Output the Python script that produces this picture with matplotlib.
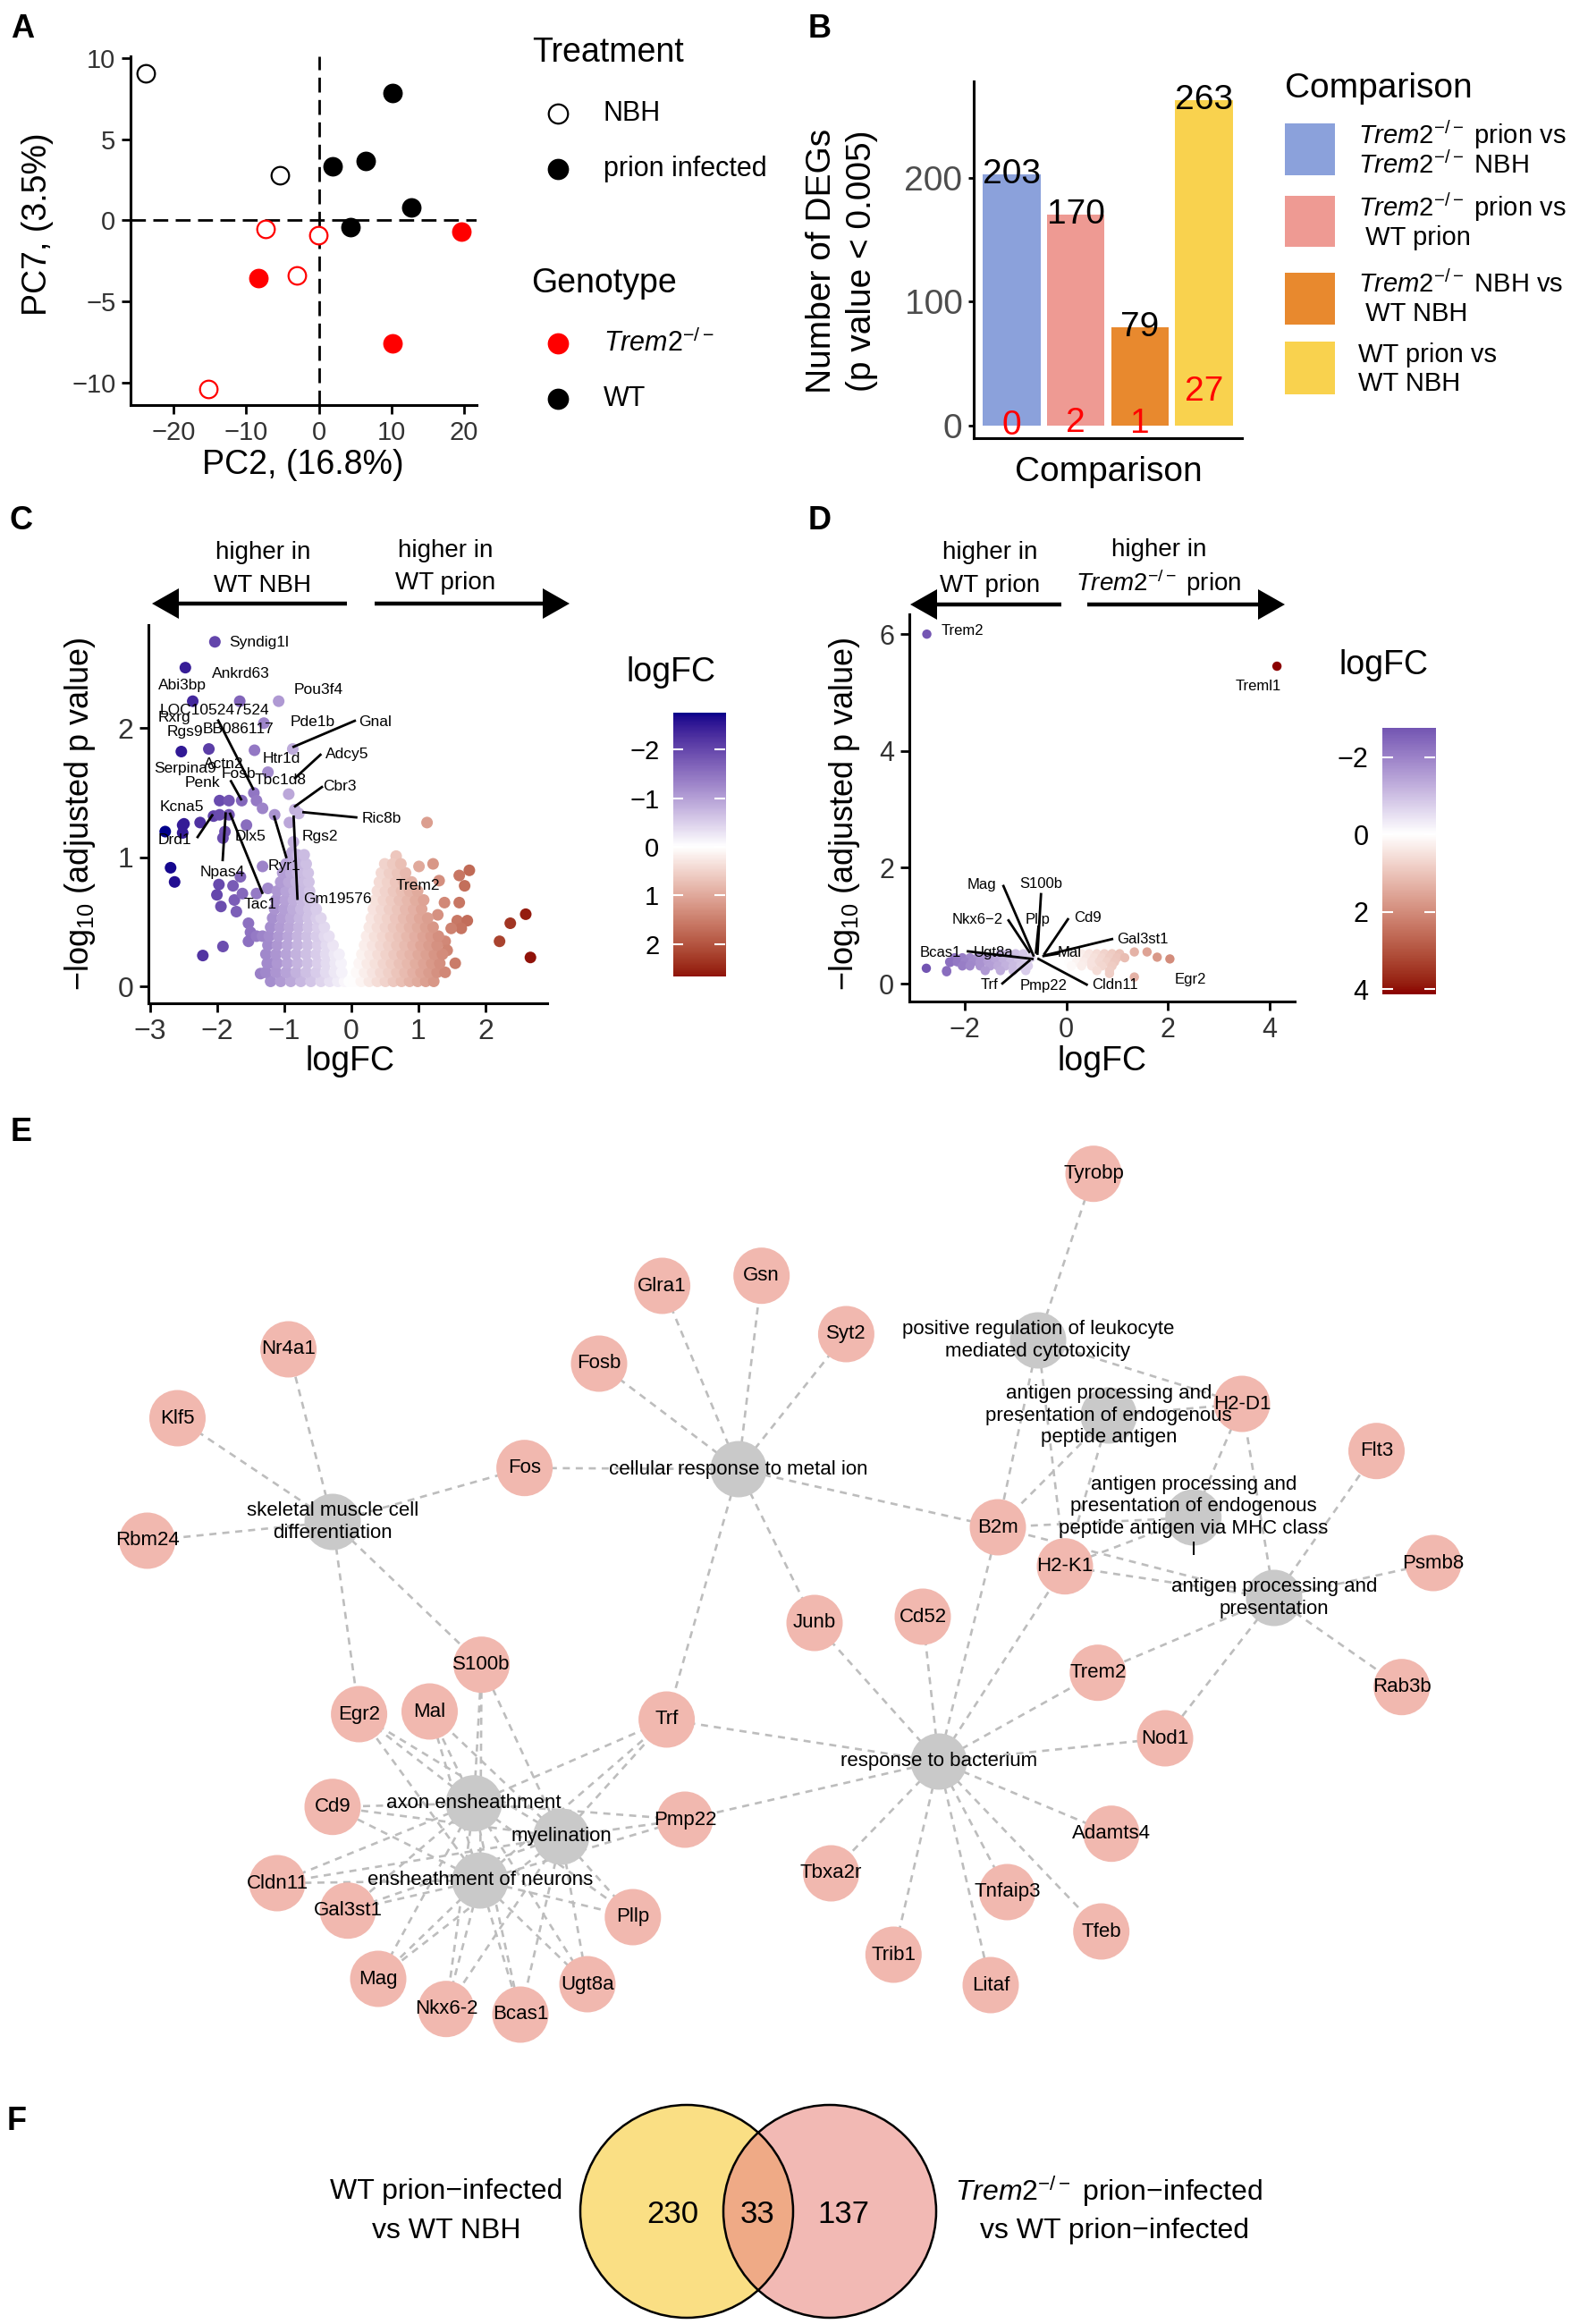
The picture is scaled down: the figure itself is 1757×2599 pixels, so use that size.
import numpy as np
import matplotlib
matplotlib.use('Agg')
import matplotlib.pyplot as plt
from matplotlib.colors import ListedColormap, Normalize
from matplotlib.patches import Circle, Rectangle, FancyArrow

plt.rcParams['font.family'] = ['Liberation Sans', 'DejaVu Sans']
plt.rcParams['mathtext.fontset'] = 'custom'
plt.rcParams['mathtext.rm'] = 'Liberation Sans'
plt.rcParams['mathtext.it'] = 'Liberation Sans:italic'
plt.rcParams['mathtext.bf'] = 'Liberation Sans:bold'

W, H = 1758, 2599
TREM = r'$\mathit{Trem2}^{-/-}$'

# ---------------- data ----------------
# A: PCA
pca_pc2 = [-23.8, -5.3, -7.3, -0.1, -3.0, -15.2, 10.1, 1.9, 6.4, 12.7, 4.4, -8.3, 19.6, 10.1]
pca_pc7 = [9.05, 2.77, -0.53, -0.93, -3.43, -10.4, 7.86, 3.3, 3.66, 0.79, -0.42, -3.58, -0.69, -7.58]
pca_treatment = ['NBH', 'NBH', 'NBH', 'NBH', 'NBH', 'NBH',
                 'prion', 'prion', 'prion', 'prion', 'prion', 'prion', 'prion', 'prion']
pca_genotype = ['WT', 'WT', 'KO', 'KO', 'KO', 'KO', 'WT', 'WT', 'WT', 'WT', 'WT', 'KO', 'KO', 'KO']

# B: DEG counts
deg_total = [203, 170, 79, 263]
deg_adjusted = [0, 2, 1, 27]
deg_colors = ['#8BA1DB', '#EE9A93', '#E8892E', '#F9D24E']
deg_legend = [[TREM + ' prion vs', TREM + ' NBH'],
              [TREM + ' prion vs', ' WT prion'],
              [TREM + ' NBH vs', ' WT NBH'],
              ['WT prion vs', 'WT NBH']]

# C: volcano WT prion vs WT NBH (separate points)
c_fc = [-2.77, -2.69, -2.63, -2.51, -2.51, -2.49, -2.53, -2.47, -2.36, -2.25, -2.21, -2.12, -2.05,
        -2.03, -1.97, -2.0, -1.94, -1.96, -1.82, -1.96, -1.82, -1.88, -1.91, -1.91, -1.76, -1.74,
        -1.71, -1.66, -1.65, -1.63, -1.62, -1.56, -1.53, -1.50, -1.53, -1.45, -1.44, -1.41, -1.41,
        -1.41, -1.35, -1.32, -1.32, -1.32, -1.30, -1.24, -1.24, -1.17, -1.14, -1.08, -0.96, -0.93,
        -0.92, -0.87, -0.84, -0.78, -0.84, -0.86, -0.88,
        0.67, 1.01, 1.13, 1.22, 1.31, 1.61, 1.76, 1.69, 1.61, 1.39, 1.29, 1.58, 1.73, 1.64, 1.49,
        1.40, 1.43, 1.55, 2.60, 2.37, 2.21, 2.67, 1.10, 0.98, 1.16, 1.28, 1.04]
c_p = [1.20, 0.92, 0.81, 1.25, 1.19, 1.26, 1.82, 2.47, 2.21, 1.27, 0.24, 1.84, 1.32,
       2.67, 0.79, 0.71, 0.62, 1.44, 1.44, 1.33, 1.33, 1.20, 1.15, 0.31, 0.78, 0.67,
       0.58, 2.21, 0.85, 1.44, 0.72, 1.25, 0.49, 0.42, 0.35, 1.50, 1.83, 1.44, 0.72,
       0.39, 0.10, 1.38, 0.93, 0.39, 2.04, 1.66, 0.76, 0.18, 1.33, 2.21, 0.11, 1.49,
       1.27, 1.84, 1.37, 1.34, 0.06, 1.12, 1.04,
       1.01, 0.93, 1.27, 0.95, 0.82, 0.86, 0.90, 0.78, 0.65, 0.65, 0.555, 0.51, 0.51, 0.45, 0.45,
       0.35, 0.28, 0.18, 0.56, 0.49, 0.35, 0.225, 0.49, 0.62, 0.29, 0.18, 0.18]
# C: dense part of the volcano, rows of (-log10 p, [logFC ...])
c_cloud = [
    (0.04, [-1.2, -1.05, -0.9, -0.75, -0.6, -0.45, -0.32, -0.2, -0.1, -0.03,
            0.04, 0.15, 0.27, 0.39, 0.51, 0.63, 0.75, 0.87, 0.99, 1.11, 1.23]),
    (0.11, [-1.27, -1.12, -0.97, -0.82, -0.67, -0.52, -0.38, -0.25, -0.14,
            0.08, 0.2, 0.32, 0.44, 0.56, 0.68, 0.8, 0.92, 1.04, 1.16, 1.28, 1.4]),
    (0.18, [-1.25, -1.1, -0.95, -0.8, -0.65, -0.5, -0.37, -0.24, -0.15,
            0.12, 0.24, 0.36, 0.48, 0.6, 0.72, 0.84, 0.96, 1.08, 1.2, 1.32]),
    (0.25, [-1.27, -1.12, -0.97, -0.82, -0.67, -0.52, -0.38, -0.25, -0.18,
            0.16, 0.28, 0.4, 0.52, 0.64, 0.76, 0.88, 1.0, 1.12, 1.24, 1.36]),
    (0.32, [-1.24, -1.1, -0.95, -0.8, -0.65, -0.5, -0.37, -0.27,
            0.2, 0.32, 0.44, 0.56, 0.68, 0.8, 0.92, 1.04, 1.16, 1.28]),
    (0.39, [-1.22, -1.08, -0.94, -0.8, -0.66, -0.52, -0.4, -0.33,
            0.23, 0.35, 0.47, 0.59, 0.71, 0.83, 0.95, 1.07, 1.19, 1.3]),
    (0.46, [-1.2, -1.06, -0.92, -0.78, -0.64, -0.5, -0.4,
            0.27, 0.39, 0.51, 0.63, 0.75, 0.87, 0.99, 1.11, 1.22]),
    (0.53, [-1.17, -1.03, -0.9, -0.77, -0.64, -0.52, -0.45,
            0.3, 0.42, 0.54, 0.66, 0.78, 0.9, 1.02, 1.14]),
    (0.60, [-1.14, -1.0, -0.87, -0.75, -0.63, -0.52,
            0.33, 0.45, 0.57, 0.69, 0.81, 0.93, 1.05]),
    (0.67, [-1.12, -0.98, -0.86, -0.74, -0.63, -0.56,
            0.36, 0.48, 0.6, 0.72, 0.84, 0.96, 1.08]),
    (0.74, [-1.1, -0.97, -0.85, -0.73, -0.62, 0.39, 0.51, 0.63, 0.75, 0.87, 0.99]),
    (0.81, [-1.05, -0.93, -0.82, -0.71, -0.63, 0.42, 0.54, 0.66, 0.78, 0.9]),
    (0.88, [-1.02, -0.9, -0.8, -0.7, -0.64, 0.45, 0.57, 0.69, 0.81]),
    (0.95, [-0.97, -0.86, -0.76, -0.67, 0.5, 0.62, 0.74]),
    (1.02, [-0.9, -0.8, -0.7]),
]
c_labels = ['Syndig1l', 'Ankrd63', 'Abi3bp', 'Pou3f4', 'LOC105247524', 'Rxrg', 'Pde1b', 'Gnal',
            'Rgs9', 'BB086117', 'Adcy5', 'Htr1d', 'Actn2', 'Serpina9', 'Fosb', 'Tbc1d8', 'Penk',
            'Cbr3', 'Kcna5', 'Ric8b', 'Drd1', 'Dlx5', 'Rgs2', 'Ryr1', 'Npas4', 'Trem2', 'Tac1',
            'Gm19576']
c_lab_x = [-1.37, -1.65, -2.51, -0.49, -2.03, -2.63, -0.57, 0.36, -2.48, -1.68, -0.06, -1.04,
           -1.90, -2.47, -1.68, -1.06, -2.22, -0.17, -2.52, 0.45, -2.63, -1.50, -0.47, -0.99,
           -1.92, 0.99, -1.35, -0.20]
c_lab_y = [2.665, 2.42, 2.33, 2.30, 2.14, 2.08, 2.05, 2.05, 1.97, 1.996, 1.80, 1.765, 1.726,
           1.69, 1.645, 1.596, 1.58, 1.55, 1.39, 1.30, 1.135, 1.165, 1.165, 0.93, 0.888, 0.779,
           0.634, 0.675]
c_segments = [(-1.98, 2.06, -1.46, 1.53), (-0.857, 1.857, 0.053, 2.058), (-0.835, 1.615, -0.458, 1.795),
              (-0.835, 1.396, -0.436, 1.545), (-0.71, 1.35, 0.075, 1.31), (-1.79, 1.59, -1.64, 1.45),
              (-2.287, 1.158, -2.07, 1.326), (-1.914, 0.98, -1.87, 1.34), (-1.324, 0.726, -1.803, 1.338),
              (-0.968, 1.003, -1.146, 1.315), (-0.80, 0.68, -0.857, 1.315)]

# D: volcano Trem2-/- prion vs WT prion
d_fc = [-2.75, 4.15, -2.76, -2.36, -2.29, -2.19, 1.34, 1.59, 1.79, 2.04, 1.34, 0.85]
d_p = [6.0, 5.45, 0.27, 0.21, 0.37, 0.40, 0.55, 0.55, 0.46, 0.43, 0.12, 0.18]
d_cloud = [
    (0.52, [-1.3, -1.15, -1.0, -0.85, 0.3, 0.45, 0.6, 0.75, 0.9, 1.05]),
    (0.45, [-2.2, -2.05, -1.9, -1.75, -1.6, -1.45, -1.3, -1.15, -1.0, -0.85, -0.7,
            0.1, 0.25, 0.4, 0.55, 0.7, 0.85, 1.0, 1.15]),
    (0.38, [-2.3, -2.15, -2.0, -1.85, -1.7, -1.55, -1.4, -1.25, -1.1, -0.95, -0.8,
            0.05, 0.2, 0.35, 0.5, 0.65, 0.8, 0.95]),
    (0.31, [-2.05, -1.9, -1.7, -1.5, -1.35, -1.2, -1.05, -0.9, -0.75, 0.1, 0.3, 0.5, 0.7, 0.9]),
    (0.23, [-2.36, -1.6, -1.3, -1.05, -0.8, 0.6, 0.85]),
]
d_labels = ['Trem2', 'Treml1', 'Mag', 'S100b', 'Nkx6−2', 'Pllp', 'Cd9', 'Gal3st1', 'Mal', 'Ugt8a',
            'Bcas1', 'Trf', 'Pmp22', 'Cldn11', 'Egr2']
d_lab_x = [-2.05, 3.78, -1.66, -0.50, -1.76, -0.57, 0.42, 1.50, 0.07, -1.44, -2.49, -1.51, -0.45, 0.95, 2.44]
d_lab_y = [6.05, 5.11, 1.70, 1.71, 1.11, 1.11, 1.13, 0.76, 0.54, 0.54, 0.54, -0.01, -0.03, -0.01, 0.07]
d_segments = [(-1.24, 1.68, -0.65, 0.49), (-0.50, 1.54, -0.57, 0.52), (-1.14, 1.09, -0.73, 0.55),
              (-0.55, 0.98, -0.60, 0.54), (0.03, 1.11, -0.43, 0.52), (0.90, 0.77, -0.43, 0.49),
              (-0.17, 0.52, -0.45, 0.48), (-1.94, 0.56, -0.67, 0.43), (-1.26, 0.01, -0.73, 0.40),
              (0.40, -0.01, -0.55, 0.43)]

# E: GO term / gene network (layout coordinates)
gene_pos = {
    'Nr4a1': (322.6, 1509), 'Klf5': (198.5, 1586), 'Rbm24': (164.7, 1723), 'Fos': (586.6, 1641.7),
    'Fosb': (670, 1525), 'Glra1': (740.6, 1438), 'Gsn': (851.7, 1426.7), 'Tyrobp': (1223, 1312.7),
    'Syt2': (946.4, 1492), 'H2-D1': (1389, 1570), 'Flt3': (1539.5, 1622.7), 'B2m': (1116, 1708),
    'H2-K1': (1191, 1751.7), 'Psmb8': (1603, 1748), 'Junb': (911, 1815), 'Cd52': (1032, 1808),
    'Trem2': (1227.8, 1870.7), 'Rab3b': (1567.7, 1886.7), 'Nod1': (1303, 1944),
    'Adamts4': (1243, 2050.7), 'Tbxa2r': (929.5, 2095), 'Tnfaip3': (1126.5, 2116),
    'Tfeb': (1231.7, 2160), 'Trib1': (999.3, 2186), 'Litaf': (1108, 2220), 'S100b': (538.6, 1861.7),
    'Egr2': (401.6, 1917), 'Mal': (480.5, 1914), 'Trf': (745.6, 1923), 'Cd9': (372, 2020.7),
    'Pmp22': (766, 2035), 'Cldn11': (310, 2106), 'Gal3st1': (389, 2136.7), 'Pllp': (707.8, 2144),
    'Mag': (423, 2213), 'Nkx6-2': (499, 2246.7), 'Bcas1': (582, 2253), 'Ugt8a': (657, 2219),
}
term_pos = {
    'skeletal muscle cell\ndifferentiation': (372, 1702),
    'cellular response to metal ion': (826, 1643),
    'positive regulation of leukocyte\nmediated cytotoxicity': (1161, 1499),
    'antigen processing and\npresentation of endogenous\npeptide antigen': (1240, 1583),
    'antigen processing and\npresentation of endogenous\npeptide antigen via MHC class\nI': (1334.7, 1697),
    'antigen processing and\npresentation': (1425, 1787),
    'response to bacterium': (1050, 1970),
    'axon ensheathment': (530, 2016.7),
    'myelination': (627.7, 2054),
    'ensheathment of neurons': (537, 2103),
}
myelin_genes = ['Egr2', 'Mal', 'S100b', 'Trf', 'Cd9', 'Pmp22', 'Cldn11', 'Gal3st1', 'Pllp', 'Mag',
                'Nkx6-2', 'Bcas1', 'Ugt8a']
term_genes = {
    'skeletal muscle cell\ndifferentiation': ['Nr4a1', 'Klf5', 'Rbm24', 'Fos', 'Egr2', 'S100b'],
    'cellular response to metal ion': ['Fos', 'Fosb', 'Glra1', 'Gsn', 'Syt2', 'B2m', 'Junb', 'Trf'],
    'positive regulation of leukocyte\nmediated cytotoxicity': ['Tyrobp', 'H2-D1', 'B2m', 'H2-K1'],
    'antigen processing and\npresentation of endogenous\npeptide antigen': ['H2-D1', 'B2m', 'H2-K1'],
    'antigen processing and\npresentation of endogenous\npeptide antigen via MHC class\nI': ['H2-D1', 'B2m', 'H2-K1'],
    'antigen processing and\npresentation': ['H2-D1', 'B2m', 'H2-K1', 'Flt3', 'Psmb8', 'Rab3b', 'Trem2', 'Nod1'],
    'response to bacterium': ['Junb', 'Cd52', 'B2m', 'H2-K1', 'Trf', 'Pmp22', 'Trem2', 'Nod1', 'Adamts4',
                              'Tfeb', 'Tnfaip3', 'Litaf', 'Trib1', 'Tbxa2r'],
    'axon ensheathment': myelin_genes,
    'myelination': myelin_genes,
    'ensheathment of neurons': myelin_genes,
}

# F: Venn counts
venn_only_wt = 230
venn_both = 33
venn_only_trem = 137


# ---------------- helpers ----------------
M_RGB = np.array([[0.4124, 0.3576, 0.1805], [0.2126, 0.7152, 0.0722], [0.0193, 0.1192, 0.9505]])
WHITE_XYZ = np.array([0.95047, 1.0, 1.08883])


def to_lab(hexcol):
    rgb = np.array(matplotlib.colors.to_rgb(hexcol))
    lin = np.where(rgb <= 0.04045, rgb / 12.92, ((rgb + 0.055) / 1.055) ** 2.4)
    xyz = M_RGB @ lin / WHITE_XYZ
    f = np.where(xyz > 0.008856, np.cbrt(xyz), 7.787 * xyz + 16 / 116)
    return np.array([116 * f[1] - 16, 500 * (f[0] - f[1]), 200 * (f[1] - f[2])])


def from_lab(lab):
    fy = (lab[0] + 16) / 116
    f = np.array([fy + lab[1] / 500, fy, fy - lab[2] / 200])
    xyz = np.where(f ** 3 > 0.008856, f ** 3, (f - 16 / 116) / 7.787) * WHITE_XYZ
    lin = np.clip(np.linalg.inv(M_RGB) @ xyz, 0, 1)
    return np.clip(np.where(lin <= 0.0031308, 12.92 * lin, 1.055 * lin ** (1 / 2.4) - 0.055), 0, 1)


def gradient2(low, mid, high, n=128):
    a, b, c = to_lab(low), to_lab(mid), to_lab(high)
    cols = [from_lab(a + (b - a) * t) for t in np.linspace(0, 1, n)]
    cols += [from_lab(b + (c - b) * t) for t in np.linspace(0, 1, n)]
    return ListedColormap(cols)


def flatten(points_x, points_y, rows):
    xs, ys = list(points_x), list(points_y)
    for y, row in rows:
        xs += row
        ys += [y] * len(row)
    return np.array(xs), np.array(ys)


fig = plt.figure(figsize=(W / 100, H / 100), dpi=100)


def px_axes(l, t, r, b):
    return fig.add_axes([l / W, 1 - b / H, (r - l) / W, (b - t) / H])


def classic(ax, size, color='#333333', ticklen=7):
    for s in ('top', 'right'):
        ax.spines[s].set_visible(False)
    for s in ('left', 'bottom'):
        ax.spines[s].set_linewidth(2.2)
    ax.tick_params(labelsize=size, width=2, length=ticklen, labelcolor=color, pad=5)


def logfc_bar(cax, vals, ticks, cmap, size):
    vmin, vmax = vals.min(), vals.max()
    m = np.abs(vals).max()
    grad = np.linspace(vmin, vmax, 300)[:, None]
    cax.imshow(grad, cmap=cmap, norm=Normalize(-m, m), aspect='auto', extent=[0, 1, vmax, vmin])
    cax.set_xlim(0, 1)
    cax.set_ylim(vmax, vmin)
    cax.set_xticks([])
    cax.set_yticks(ticks)
    cax.tick_params(axis='y', length=0, pad=11, labelsize=size)
    for s in cax.spines.values():
        s.set_visible(False)
    cax.hlines(ticks, 0, 0.2, color='white', lw=1.5)
    cax.hlines(ticks, 0.8, 1, color='white', lw=1.5)


cmap = gradient2('#00008B', '#FFFFFF', '#8B0000')

# overlay canvas in pixel units for panel letters, legends, arrows
ov = fig.add_axes([0, 0, 1, 1], zorder=5)
ov.set_xlim(0, W)
ov.set_ylim(H, 0)
ov.axis('off')
ov.patch.set_alpha(0)

for letter, (lx, ly) in {'A': (25, 33), 'B': (917, 33), 'C': (24, 582), 'D': (917, 582),
                         'E': (24, 1266), 'F': (19, 2372)}.items():
    ov.text(lx, ly, letter, fontsize=26, fontweight='bold', ha='center', va='center')

# ---------------- A ----------------
axA = px_axes(146, 63, 533, 453)
geno_col = {'KO': '#FF0000', 'WT': 'black'}
for x, y, t, g in zip(pca_pc2, pca_pc7, pca_treatment, pca_genotype):
    c = geno_col[g]
    axA.scatter([x], [y], s=200, facecolors=c if t == 'prion' else 'white', edgecolors=c,
                linewidths=1.6, zorder=3)
axA.axhline(0, color='black', lw=2, dashes=(6, 3), zorder=1)
axA.axvline(0, color='black', lw=2, dashes=(6, 3), zorder=1)
axA.set_xlim(-25.9, 21.7)
axA.set_ylim(-11.4, 10.1)
axA.set_xticks([-20, -10, 0, 10, 20])
axA.set_yticks([-10, -5, 0, 5, 10])
classic(axA, 21)
ov.text(339, 520, 'PC2, (16.8%)', fontsize=27, ha='center', va='center')
ov.text(42, 251, 'PC7, (3.5%)', fontsize=27, ha='center', va='center', rotation=90)

ov.text(595, 59, 'Treatment', fontsize=27, ha='left', va='center')
ov.text(594, 317, 'Genotype', fontsize=27, ha='left', va='center')
for y, face, edge, lab in [(127, 'white', 'black', 'NBH'), (189, 'black', 'black', 'prion infected'),
                           (384, '#FF0000', '#FF0000', TREM), (446, 'black', 'black', 'WT')]:
    ov.plot([624], [y], 'o', ms=15.5, mfc=face, mec=edge, mew=1.6)
    ov.text(675, y, lab, fontsize=22, ha='left', va='center')

# ---------------- B ----------------
axB = px_axes(1089, 91, 1389, 490)
xpos = np.arange(1, len(deg_total) + 1)
axB.bar(xpos, deg_total, width=0.9, color=deg_colors)
for x, v, r in zip(xpos, deg_total, deg_adjusted):
    axB.text(x, v, str(v), fontsize=28, ha='center', va='center', color='black')
    axB.text(x, r, str(r), fontsize=28, ha='center', va='center', color='#FF0000')
axB.set_xlim(0.41, 4.59)
axB.set_ylim(-10.4, 278)
axB.set_xticks([])
axB.set_yticks([0, 100, 200])
classic(axB, 28, color='#4D4D4D', ticklen=4)
ov.text(919, 292, 'Number of DEGs', fontsize=28, rotation=90, ha='center', va='center')
ov.text(964, 292, '(p value < 0.005)', fontsize=28, rotation=90, ha='center', va='center')
ov.text(1240, 528, 'Comparison', fontsize=28, ha='center', va='center')

ov.text(1437, 99, 'Comparison', fontsize=28, ha='left', va='center')
key_rows = [(138, 196, 151, 185), (219, 276, 232, 266), (305, 363, 318, 351), (382, 441, 397, 429)]
for (kt, kb, y1, y2), col, lines in zip(key_rows, deg_colors, deg_legend):
    ov.add_patch(Rectangle((1437, kt), 56, kb - kt, facecolor=col, edgecolor='none'))
    ov.text(1519, y1, lines[0], fontsize=21, ha='left', va='center')
    ov.text(1519, y2, lines[1], fontsize=21, ha='left', va='center')

# ---------------- C ----------------
axC = px_axes(166, 699, 612, 1122)
cx, cy = flatten(c_fc, c_p, c_cloud)
mc = np.abs(cx).max()
axC.scatter(cx, cy, c=cx, cmap=cmap, norm=Normalize(-mc, mc), s=88, linewidths=0, zorder=2)
for x0, y0, x1, y1 in c_segments:
    axC.plot([x0, x1], [y0, y1], color='black', lw=2, zorder=3)
for name, x, y in zip(c_labels, c_lab_x, c_lab_y):
    axC.text(x, y, name, fontsize=12.5, ha='center', va='center', zorder=4, clip_on=False)
axC.set_xlim(-3.02, 2.92)
axC.set_ylim(-0.13, 2.80)
axC.set_xticks([-3, -2, -1, 0, 1, 2])
axC.set_yticks([0, 1, 2])
classic(axC, 23)
ov.text(90, 910, '−log$_{10}$ (adjusted p value)', fontsize=26, rotation=90, ha='center', va='center')
ov.text(392, 1187, 'logFC', fontsize=27, ha='center', va='center')

caxC = px_axes(752.6, 796.7, 810.7, 1092)
logfc_bar(caxC, cx, [-2, -1, 0, 1, 2], cmap, 21)
ov.text(701, 752, 'logFC', fontsize=27, ha='left', va='center')

for tail, tip in [((388, 675), (170, 675)), ((419, 675), (637, 675)),
                  ((1187, 676), (1018, 676)), ((1216, 676), (1437, 676))]:
    ov.add_patch(FancyArrow(tail[0], tail[1], tip[0] - tail[0], tip[1] - tail[1], width=4.5,
                            head_width=34, head_length=30, length_includes_head=True,
                            color='black', lw=0))
ov.text(294, 618, 'higher in', fontsize=20, ha='center', va='center')
ov.text(294, 655, 'WT NBH', fontsize=20, ha='center', va='center')
ov.text(498, 616, 'higher in', fontsize=20, ha='center', va='center')
ov.text(498, 652, 'WT prion', fontsize=20, ha='center', va='center')

# ---------------- D ----------------
axD = px_axes(1016.7, 687, 1448, 1120)
dx, dy = flatten(d_fc, d_p, d_cloud)
md = np.abs(dx).max()
axD.scatter(dx, dy, c=dx, cmap=cmap, norm=Normalize(-md, md), s=56, linewidths=0, zorder=2)
for x0, y0, x1, y1 in d_segments:
    axD.plot([x0, x1], [y0, y1], color='black', lw=2, zorder=3)
for name, x, y in zip(d_labels, d_lab_x, d_lab_y):
    axD.text(x, y, name, fontsize=12, ha='center', va='center', zorder=4, clip_on=False)
axD.set_xlim(-3.1, 4.5)
axD.set_ylim(-0.3, 6.34)
axD.set_xticks([-2, 0, 2, 4])
axD.set_yticks([0, 2, 4, 6])
classic(axD, 22)
ov.text(945, 910, '−log$_{10}$ (adjusted p value)', fontsize=26, rotation=90, ha='center', va='center')
ov.text(1233, 1187, 'logFC', fontsize=27, ha='center', va='center')

caxD = px_axes(1545.7, 814, 1604.8, 1112.5)
logfc_bar(caxD, dx, [-2, 0, 2, 4], cmap, 22)
ov.text(1498, 744, 'logFC', fontsize=27, ha='left', va='center')

ov.text(1107, 618, 'higher in', fontsize=20, ha='center', va='center')
ov.text(1107, 655, 'WT prion', fontsize=20, ha='center', va='center')
ov.text(1296, 615, 'higher in', fontsize=20, ha='center', va='center')
ov.text(1296, 652, TREM + ' prion', fontsize=20, ha='center', va='center')

# ---------------- E ----------------
axE = px_axes(0, 1240, W, 2300)
axE.set_xlim(0, W)
axE.set_ylim(2300, 1240)
axE.axis('off')
for term, genes in term_genes.items():
    tx, ty = term_pos[term]
    for g in genes:
        gx, gy = gene_pos[g]
        axE.plot([tx, gx], [ty, gy], color='#BDBDBD', lw=1.9, dashes=(3, 2.5), zorder=1)
for g, (gx, gy) in gene_pos.items():
    axE.add_patch(Circle((gx, gy), 31.5, facecolor='#F1B8AF', edgecolor='none', zorder=2))
    axE.text(gx, gy, g, fontsize=16, ha='center', va='center', zorder=3)
for term, (tx, ty) in term_pos.items():
    axE.add_patch(Circle((tx, ty), 31.5, facecolor='#C9C9C9', edgecolor='none', zorder=2))
for term, (tx, ty) in term_pos.items():
    axE.text(tx, ty, term, fontsize=16, ha='center', va='center', zorder=4, linespacing=1.2)

# ---------------- F ----------------
axF = px_axes(0, 2300, W, 2599)
axF.set_xlim(0, W)
axF.set_ylim(2599, 2300)
axF.axis('off')
left_c = Circle((768, 2473), 119, facecolor='#FADF84', edgecolor='none')
right_c = Circle((928, 2473), 119, facecolor='#F2B9B4', edgecolor='none')
axF.add_patch(left_c)
axF.add_patch(right_c)
inter = Circle((928, 2473), 119, facecolor='#EFAA86', edgecolor='none')
axF.add_patch(inter)
inter.set_clip_path(left_c)
for cxy in [(768, 2473), (928, 2473)]:
    axF.add_patch(Circle(cxy, 119, fill=False, edgecolor='black', lw=1.8))
axF.text(752, 2477, str(venn_only_wt), fontsize=25, ha='center', va='center')
axF.text(847, 2477, str(venn_both), fontsize=25, ha='center', va='center')
axF.text(943, 2477, str(venn_only_trem), fontsize=25, ha='center', va='center')
axF.text(499, 2451, 'WT prion−infected', fontsize=23, ha='center', va='center')
axF.text(499, 2495, 'vs WT NBH', fontsize=23, ha='center', va='center')
axF.text(1240, 2451, TREM + ' prion−infected', fontsize=23, ha='center', va='center')
axF.text(1247, 2495, 'vs WT prion−infected', fontsize=23, ha='center', va='center')

fig.savefig('out.png', dpi=100, facecolor='white')
